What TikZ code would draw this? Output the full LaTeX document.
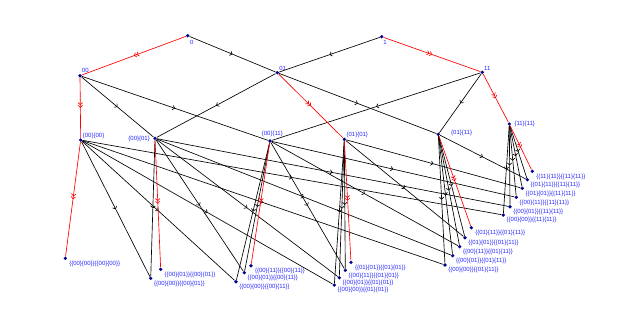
\documentclass[tikz,border=0pt]{standalone}
\usepackage{fontspec}
\setmainfont{Liberation Sans}
\usetikzlibrary{decorations.markings,arrows.meta}
\definecolor{dotc}{RGB}{0,0,140}
\definecolor{lblc}{RGB}{40,40,255}
\tikzset{
  dot/.style={circle,fill=dotc,inner sep=0pt,minimum size=3.6pt},
  lbl/.style={text=lblc,font=\fontsize{6}{7}\selectfont,inner sep=0pt},
  midarrow/.style={postaction={decorate,decoration={markings,mark=at position 0.5 with {\arrow{Straight Barb[length=2pt,width=4.5pt]}}}}},
  middouble/.style={postaction={decorate,decoration={markings,mark=at position 0.5 with {\arrow{Straight Barb[length=2pt,width=4.5pt] Straight Barb[length=2pt,width=4.5pt]}}}}},
  blk/.style={color=black,line width=0.65pt,midarrow},
  rd/.style={color=red,line width=0.65pt,middouble},
}
\begin{document}
\begin{tikzpicture}[x=1pt,y=-1pt]
\useasboundingbox (0,0) rectangle (641,327);
% level 0
\node[dot] (n0) at (187.7,35.7) {};
\node[dot] (n1) at (381.7,36.7) {};
\node[lbl] at (191.7,42.7) {0};
\node[lbl] at (385,42.3) {1};
% level 1
\node[dot] (a00) at (80,75.7) {};
\node[dot] (a01) at (277.3,72.7) {};
\node[dot] (a11) at (482.3,72.3) {};
\node[lbl] at (85.3,70.7) {00};
\node[lbl] at (282.7,68.7) {01};
\node[lbl] at (487.3,68.3) {11};
% level 2
\node[dot] (b0000) at (80.7,140) {};
\node[dot] (b0001) at (155,138.3) {};
\node[dot] (b0011) at (270,141) {};
\node[dot] (b0101) at (344.3,139.3) {};
\node[dot] (b0111) at (438.3,134.3) {};
\node[dot] (b1111) at (509.3,124) {};
\node[lbl,anchor=west] at (82.7,135.5) {\{00\}\{00\}};
\node[lbl,anchor=east] at (150,139.3) {\{00\}\{01\}};
\node[lbl] at (272.3,134) {\{00\}\{11\}};
\node[lbl] at (357.3,135) {\{01\}\{01\}};
\node[lbl,anchor=west] at (451,132.7) {\{01\}\{11\}};
\node[lbl,anchor=west] at (514.3,124) {\{11\}\{11\}};
% level 3, off-diagonal
\foreach \xa/\xb/\ya/\yb/\x/\y in {
  00/00/00/01/150.7/278.3,
  00/00/00/11/236/281.7,
  00/01/00/11/244.3/272.7,
  00/00/01/01/334.3/285,
  00/01/01/01/339.3/277.7,
  00/11/01/01/345.3/270.3,
  00/00/01/11/445/265,
  00/01/01/11/452.7/255.7,
  00/11/01/11/459.7/246.7,
  01/01/01/11/465/237.7,
  00/00/11/11/503.3/215,
  00/01/11/11/510/206.7,
  00/11/11/11/516.3/197.3,
  01/01/11/11/522.3/188.3,
  01/11/11/11/527.3/179.7}{
  \node[dot] (c\xa\xb\ya\yb) at (\x,\y) {};
  \node[lbl,anchor=west] at ({\x+3.2},{\y+5.2}) {\{\{\xa\}\{\xb\}\}\{\{\ya\}\{\yb\}\}};
  \draw[blk] (b\xa\xb) -- (c\xa\xb\ya\yb);
  \draw[blk] (b\ya\yb) -- (c\xa\xb\ya\yb);
}
% level 1 and 2 black edges
\draw[blk] (n0) -- (a01);
\draw[blk] (n1) -- (a01);
\draw[blk] (a00) -- (b0001);
\draw[blk] (a01) -- (b0001);
\draw[blk] (a00) -- (b0011);
\draw[blk] (a11) -- (b0011);
\draw[blk] (a01) -- (b0111);
\draw[blk] (a11) -- (b0111);
% level 3, diagonal (red)
\foreach \xa/\xb/\x/\y in {
  00/00/65.3/258.3,
  00/01/160.7/269.3,
  00/11/251/265.7,
  01/01/351/262.3,
  01/11/471.3/227.7,
  11/11/532.3/171.3}{
  \node[dot] (c\xa\xb\xa\xb) at (\x,\y) {};
  \node[lbl,anchor=west] at ({\x+3.8},{\y+5.2}) {\{\{\xa\}\{\xb\}\}\{\{\xa\}\{\xb\}\}};
  \draw[rd] (b\xa\xb) -- (c\xa\xb\xa\xb);
}
% red edges upper levels
\draw[rd] (n0) -- (a00);
\draw[rd] (n1) -- (a11);
\draw[rd] (a00) -- (b0000);
\draw[rd] (a01) -- (b0101);
\draw[rd] (a11) -- (b1111);
\end{tikzpicture}
\end{document}
